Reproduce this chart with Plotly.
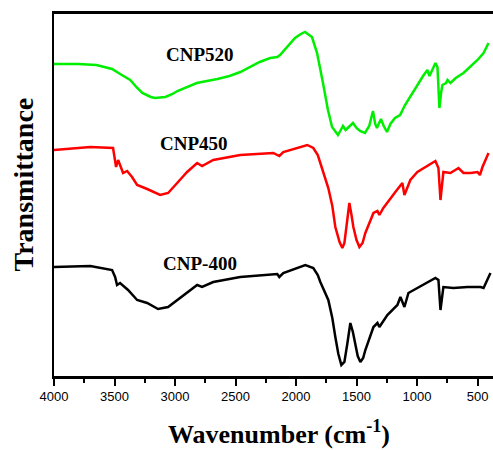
import plotly.graph_objects as go

# Wavenumber (cm-1) and transmittance (arbitrary units, offset per sample)
wn_520 = [4000, 3800, 3650, 3520, 3440, 3370, 3320, 3270, 3200, 3165, 3080, 3020, 2980, 2900, 2820,
          2650, 2550, 2460, 2380, 2300, 2213, 2155, 2132, 2074, 2008, 1960, 1926, 1868, 1826, 1777,
          1736, 1702, 1653, 1630, 1612, 1590, 1579, 1555, 1529, 1500, 1471, 1430, 1395, 1364, 1345,
          1331, 1298, 1275, 1248, 1220, 1182, 1140, 1099, 1000, 950, 914, 897, 870, 848, 831,
          815, 800, 790, 760, 748, 724, 680, 616, 560, 500, 450, 409]
t_520 = [312, 312, 311, 307, 301, 296, 289, 283, 279, 278, 279, 282, 285, 289, 293,
         297, 300, 304, 309, 314, 318, 319, 321, 329, 338, 342, 344, 339, 323, 293,
         266, 249, 241, 246, 250, 246, 247, 250, 253, 248, 245, 243, 250, 265, 252,
         248, 257, 250, 244, 252, 258, 261, 271, 291, 300, 306, 300, 307, 313, 309,
         268, 284, 291, 293, 296, 293, 298, 303, 309, 316, 323, 333]

wn_450 = [4000, 3700, 3512, 3487, 3470, 3429, 3396, 3355, 3313, 3230, 3123, 3057, 2982, 2900, 2817,
          2776, 2684, 2461, 2188, 2147, 2138, 2105, 1965, 1907, 1857, 1820, 1799, 1733, 1700, 1675,
          1640, 1617, 1600, 1580, 1559, 1540, 1526, 1500, 1476, 1450, 1427, 1360, 1327, 1311, 1278,
          1179, 1121, 1104, 1055, 997, 848, 823, 806, 782, 724, 657, 616, 558, 500, 480, 459, 409]
t_450 = [226, 229, 228, 209, 216, 203, 205, 199, 191, 187, 181, 183, 193, 204, 213,
         210, 216, 221, 223, 221, 220, 224, 229, 231, 228, 221, 213, 188, 170, 149,
         134, 128, 133, 152, 173, 160, 149, 136, 129, 133, 143, 163, 165, 161, 168,
         184, 193, 181, 196, 204, 215, 208, 176, 204, 203, 208, 203, 203, 204, 201, 209, 223]

wn_400 = [4000, 3700, 3520, 3495, 3479, 3454, 3388, 3313, 3230, 3140, 3057, 2982, 2900, 2817, 2776,
          2684, 2461, 2155, 2138, 2105, 1923, 1857, 1820, 1799, 1733, 1700, 1675, 1650, 1625, 1600,
          1575, 1551, 1530, 1510, 1490, 1468, 1445, 1427, 1360, 1327, 1311, 1245, 1162, 1137, 1104,
          1071, 947, 848, 823, 806, 782, 699, 583, 475, 450, 393]
t_400 = [109, 110, 106, 99, 91, 93, 86, 76, 73, 67, 69, 76, 83, 91, 89,
         94, 99, 102, 99, 103, 111, 108, 101, 94, 76, 58, 39, 22, 11, 14,
         33, 53, 44, 33, 20, 14, 18, 26, 49, 53, 49, 61, 71, 79, 69,
         83, 91, 98, 96, 66, 89, 88, 89, 89, 88, 103]

x_ticks = [4000, 3500, 3000, 2500, 2000, 1500, 1000, 500]
labels = ["CNP520", "CNP450", "CNP-400"]

fig = go.Figure()
for wn, t, col, name in [(wn_520, t_520, "#00ee00", labels[0]),
                         (wn_450, t_450, "#ff0000", labels[1]),
                         (wn_400, t_400, "#000000", labels[2])]:
    fig.add_trace(go.Scatter(x=wn, y=t, mode="lines", name=name,
                             line=dict(color=col, width=2.5), showlegend=False))

serif = "Liberation Serif"
for name, xv, yv in [(labels[0], 2793, 322), (labels[1], 2847, 233), (labels[2], 2793, 113)]:
    fig.add_annotation(x=xv, y=yv, text="<b>%s</b>" % name, showarrow=False,
                       font=dict(family=serif, size=19, color="black"),
                       xanchor="center", yanchor="middle")

fig.add_annotation(xref="paper", yref="paper", x=0.5125, y=-0.157,
                   text="<b>Wavenumber (cm<sup>-1</sup>)</b>", showarrow=False,
                   font=dict(family=serif, size=26, color="black"),
                   xanchor="center", yanchor="middle")
fig.add_annotation(xref="paper", yref="paper", x=-0.070, y=0.53,
                   text="<b>Transmittance</b>", showarrow=False, textangle=-90,
                   font=dict(family=serif, size=28, color="black"),
                   xanchor="center", yanchor="middle")

fig.update_layout(
    width=493, height=450,
    margin=dict(l=54, r=0, t=14, b=74),
    plot_bgcolor="white", paper_bgcolor="white",
    xaxis=dict(range=[4000, 372], tickvals=x_ticks, ticktext=[str(v) for v in x_ticks],
               showline=True, linecolor="black", linewidth=2.5, mirror=True,
               ticks="outside", ticklen=7, tickwidth=1.5, tickcolor="black",
               minor=dict(tickvals=[3750, 3250, 2750, 2250, 1750, 1250, 750], ticks="outside",
                          ticklen=4, tickwidth=1.5, tickcolor="black"),
               showgrid=False, zeroline=False,
               tickfont=dict(family="Liberation Sans", size=13, color="black")),
    yaxis=dict(range=[0, 362], showline=True, linecolor="black", linewidth=2,
               showticklabels=False, ticks="", showgrid=False, zeroline=False),
)

fig.write_html("out.html", config={"displayModeBar": False},
               post_script="document.body.style.margin='0';document.body.style.overflow='hidden';")
